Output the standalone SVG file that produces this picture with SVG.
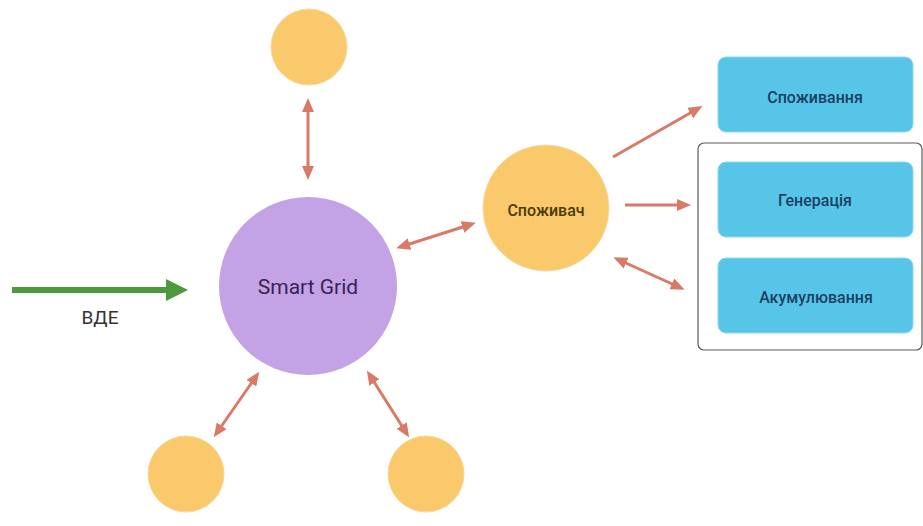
<svg xmlns="http://www.w3.org/2000/svg" width="923" height="526" viewBox="0 0 923 526">
<style>
.bubble{fill:#f9c96b;stroke:#f6d99a;stroke-width:1}
.box{fill:#57c5e8;stroke:#8fd7ef;stroke-width:1}
.conn{stroke:#d97a66;stroke-width:3;fill:none}
.lbl{font-family:Roboto,"Liberation Sans",sans-serif;text-anchor:middle;dominant-baseline:central}
.boxlbl{font-size:16px;font-weight:500;fill:#1b3f63}
</style>
<defs>
<marker id="ah" markerUnits="userSpaceOnUse" viewBox="0 0 14 12" markerWidth="14" markerHeight="12" refX="10" refY="6" orient="auto-start-reverse">
<path d="M0,0 L14,6 L0,12 z" fill="#d97a66"/>
</marker>
<marker id="ag" markerUnits="userSpaceOnUse" viewBox="0 0 22 22" markerWidth="22" markerHeight="22" refX="16" refY="11" orient="auto">
<path d="M0,0 L22,11 L0,22 z" fill="#4d9a3c"/>
</marker>
</defs>
<rect width="923" height="526" fill="#ffffff"/>
<rect id="group-frame" x="698" y="143" width="224" height="207" rx="6" fill="none" stroke="#5a5a5a" stroke-width="1.2"/>
<g id="connectors">
<line class="conn" x1="308" y1="102" x2="308" y2="176" marker-start="url(#ah)" marker-end="url(#ah)"/>
<line class="conn" x1="400" y1="247" x2="472" y2="224" marker-start="url(#ah)" marker-end="url(#ah)"/>
<line class="conn" x1="216" y1="434" x2="257" y2="375" marker-start="url(#ah)" marker-end="url(#ah)"/>
<line class="conn" x1="369" y1="374" x2="407" y2="434" marker-start="url(#ah)" marker-end="url(#ah)"/>
<line class="conn" x1="613" y1="157" x2="699" y2="108" marker-end="url(#ah)"/>
<line class="conn" x1="625" y1="205" x2="687" y2="205" marker-end="url(#ah)"/>
<line class="conn" x1="617" y1="259" x2="681" y2="288" marker-start="url(#ah)" marker-end="url(#ah)"/>
<line x1="12" y1="290" x2="182" y2="290" stroke="#4d9a3c" stroke-width="6" marker-end="url(#ag)"/>
</g>
<text id="vde-label" class="lbl" x="100" y="317" font-size="19" fill="#333333">ВДЕ</text>
<g id="smart-grid">
<circle cx="308" cy="286" r="89" fill="#c3a2e5"/>
<text class="lbl" x="308" y="287" font-size="21" fill="#3a2258">Smart Grid</text>
</g>
<g id="node-top"><circle class="bubble" cx="309" cy="47" r="38"/></g>
<g id="node-bottom-left"><circle class="bubble" cx="186" cy="474" r="38"/></g>
<g id="node-bottom-right"><circle class="bubble" cx="426" cy="474" r="38"/></g>
<g id="spozhyvach">
<circle class="bubble" cx="546" cy="208" r="63"/>
<text class="lbl" x="546" y="210" font-size="16" font-weight="500" fill="#4a3a0a">Споживач</text>
</g>
<g id="spozhyvannia">
<rect class="box" x="718" y="57" width="195" height="75" rx="8"/>
<text class="lbl boxlbl" x="815" y="97">Споживання</text>
</g>
<g id="heneratsiia">
<rect class="box" x="718" y="162" width="195" height="75" rx="8"/>
<text class="lbl boxlbl" x="815" y="200">Генерація</text>
</g>
<g id="akumuliuvannia">
<rect class="box" x="718" y="258" width="195" height="75" rx="8"/>
<text class="lbl boxlbl" x="816" y="297">Акумулювання</text>
</g>
</svg>
